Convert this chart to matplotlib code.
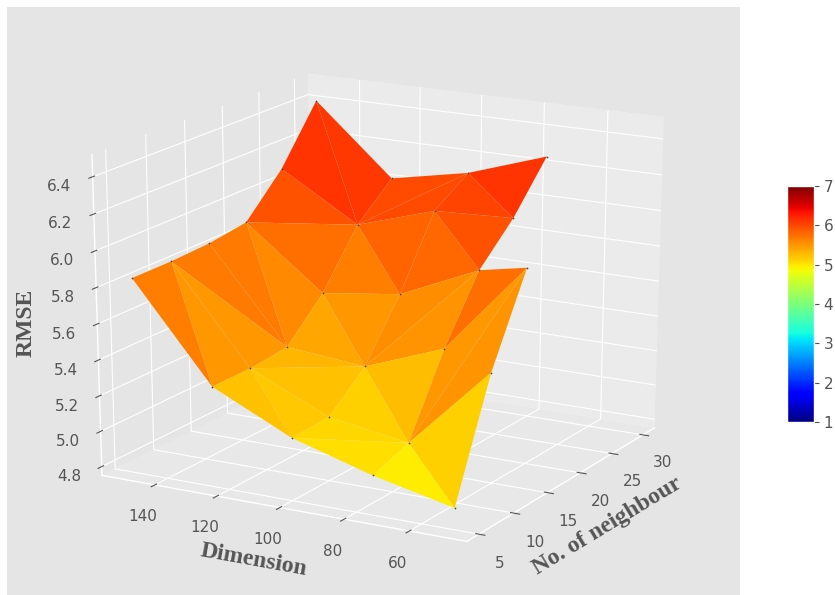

import matplotlib
matplotlib.use('Agg')
import matplotlib.pyplot as plt
import numpy as np

plt.style.use('ggplot')

dimensions = [150, 125, 100, 75, 50]
neighbours = [5, 10, 15, 20, 25, 30]
rmse_150 = [5.84, 5.84, 5.85, 5.88, 6.10, 6.41]
rmse_125 = [5.31, 5.31, 5.33, 5.54, 5.84, 6.02]
rmse_100 = [5.10, 5.11, 5.29, 5.60, 5.98, 6.11]
rmse_75 = [4.97, 5.04, 5.46, 5.80, 6.00, 6.26]
rmse_50 = [4.87, 5.50, 5.97]
rows = [rmse_150, rmse_125, rmse_100, rmse_75, rmse_50]
dim_ticks = [60, 80, 100, 120, 140]
nei_ticks = [5, 10, 15, 20, 25, 30]
rmse_ticks = [4.8, 5.0, 5.2, 5.4, 5.6, 5.8, 6.0, 6.2, 6.4]
cbar_ticks = [1, 2, 3, 4, 5, 6, 7]

xs, ys, zs, index = [], [], [], {}
for r, (dim, row) in enumerate(zip(dimensions, rows)):
    for c, val in enumerate(row):
        index['ABCDE'[r] + str(c + 1)] = len(xs)
        xs.append(neighbours[c]); ys.append(dim); zs.append(val)

mesh = ("A1 A2 B1,A2 B1 B2,A2 B2 B3,A2 A3 B3,A3 A4 B3,A4 B3 B4,A4 A5 B5,A4 B4 B5,A5 A6 B5,A6 B5 B6,"
        "B1 B2 C1,B2 C1 C2,B2 B3 C3,B2 C2 C3,B3 B4 C3,B4 C3 C4,B4 B5 C4,B5 C4 C5,B5 B6 C6,B5 C5 C6,"
        "C1 C2 D2,C1 D1 D2,C2 C3 D2,C3 D2 D3,C3 C4 D4,C3 D3 D4,C4 C5 D4,C5 D4 D5,C5 C6 D5,C6 D5 D6,"
        "D1 D2 E1,D2 E1 E2,D2 D3 E3,D2 E2 E3,D3 D4 E3")
triangles = [[index[n] for n in t.split()] for t in mesh.split(',')]

W, H = 835, 595
fig = plt.figure(figsize=(W / 100, H / 100), dpi=100, facecolor='white')
ax = fig.add_axes([7 / W, -6 / H, 733 / W, 594 / H], projection='3d')
ax.apply_aspect = lambda position=None: None
ax.view_init(19.345, 209.247)
ax.set_box_aspect((1, 1, 1), zoom=0.947)

surf = ax.plot_trisurf(xs, ys, zs, triangles=triangles, cmap='jet', vmin=1, vmax=7, linewidth=0)
ax.scatter(xs, ys, zs, c='#444444', s=1.5, linewidths=0, depthshade=False)

ax.set_xlim(3.32, 31.94, view_margin=0)
ax.set_ylim(42.7, 157.3, view_margin=0)
ax.set_zlim(4.75, 6.52, view_margin=0)
ax.set_xticks(nei_ticks)
ax.set_yticks(dim_ticks)
ax.set_zticks(rmse_ticks)
ax.set_zticklabels(['%.1f' % v for v in rmse_ticks])
ax.tick_params(axis='x', labelsize=11, pad=6)
ax.tick_params(axis='y', labelsize=11, pad=6)
ax.tick_params(axis='z', labelsize=11, pad=6)

lab = dict(family='Liberation Serif', fontweight='bold', fontsize=17, color='#555555')
ax.set_xlabel('No. of neighbour', labelpad=8, **lab)
ax.set_ylabel('Dimension', labelpad=9, **lab)
ax.zaxis.set_rotate_label(False)
ax.set_zlabel('RMSE', labelpad=9, rotation=90, **lab)

cax = fig.add_axes([787 / W, (H - 422) / H, 27 / W, 236 / H])
cb = fig.colorbar(surf, cax=cax, ticks=cbar_ticks)
cb.ax.tick_params(labelsize=11)

fig.savefig('out.png', dpi=100)
